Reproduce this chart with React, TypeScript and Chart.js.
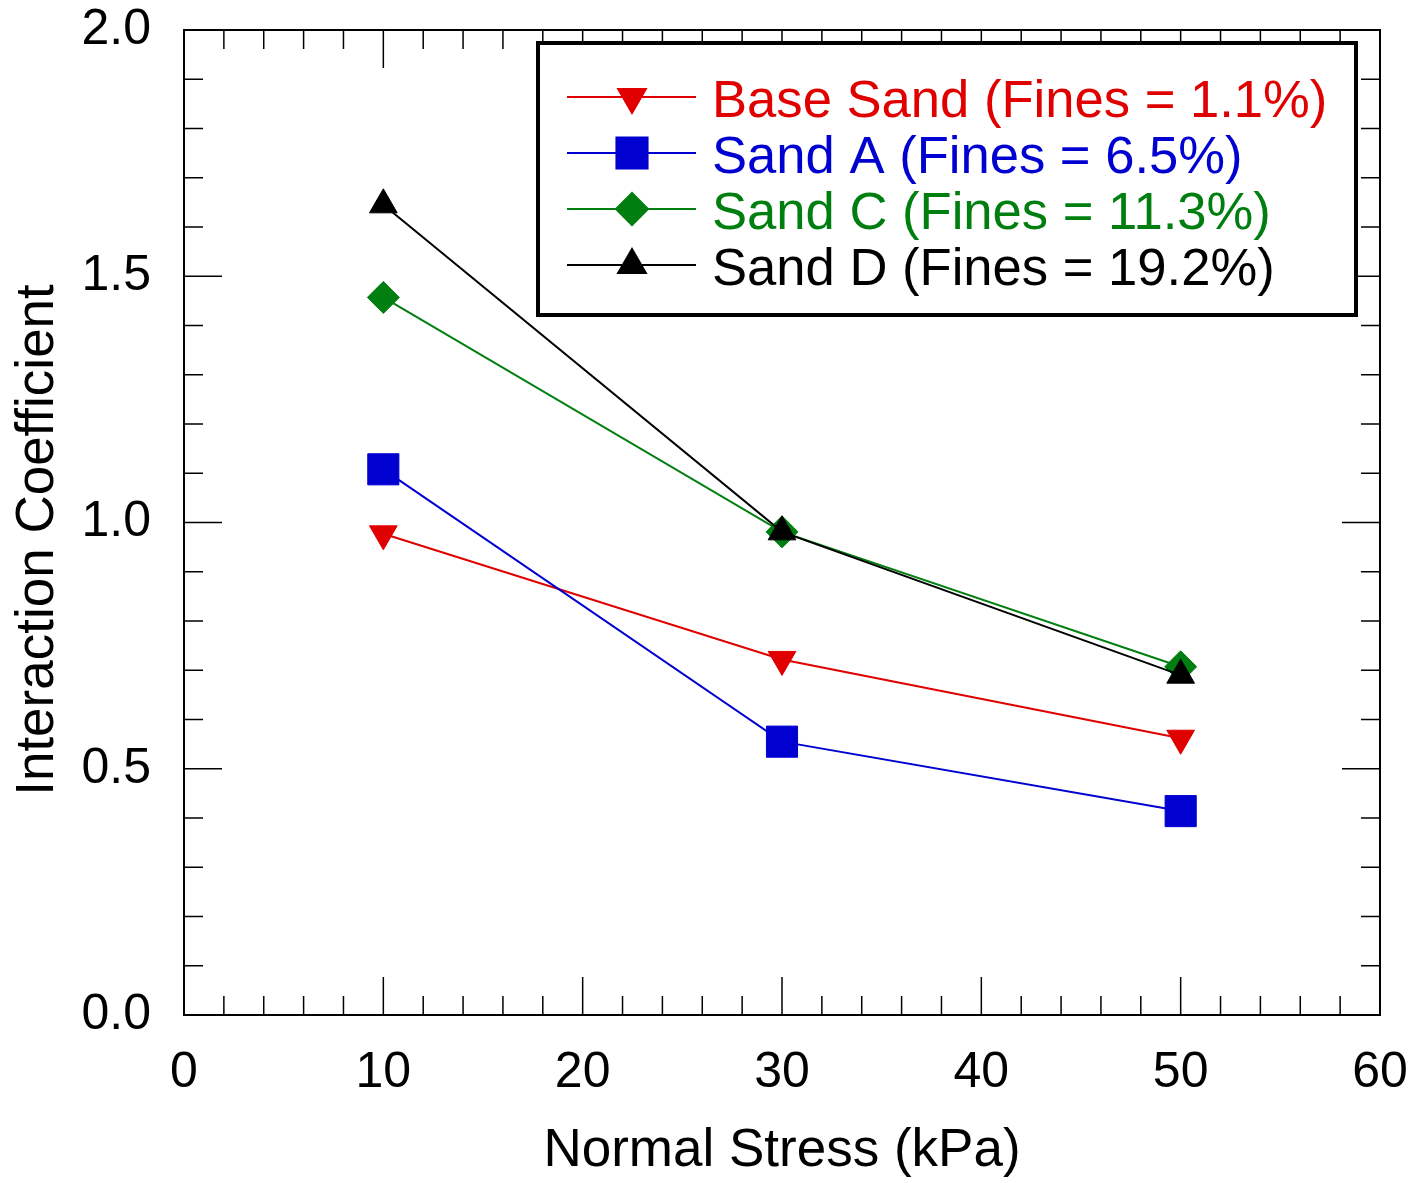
import React, { useEffect, useRef } from 'react';
import { Chart, registerables } from 'chart.js';
import { drawPoint } from 'chart.js/helpers';

Chart.register(...registerables);

const FONT = "'Liberation Sans', Arial, Helvetica, sans-serif";

// Data
const normalStress = [10, 30, 50];
const baseSand = [0.977, 0.722, 0.562];
const sandA = [1.108, 0.555, 0.414];
const sandC = [1.457, 0.981, 0.707];
const sandD = [1.645, 0.981, 0.69];

const seriesLabels = [
  'Base Sand (Fines = 1.1%)',
  'Sand A (Fines = 6.5%)',
  'Sand C (Fines = 11.3%)',
  'Sand D (Fines = 19.2%)',
];
const seriesColors = ['#e00000', '#0000d0', '#007f10', '#000000'];

const xMajorTicks = [0, 10, 20, 30, 40, 50, 60];
const xMinorTicks = [2, 4, 6, 8, 12, 14, 16, 18, 22, 24, 26, 28, 32, 34, 36, 38, 42, 44, 46, 48, 52, 54, 56, 58];
const yMajorTicks = [0, 0.5, 1.0, 1.5, 2.0];
const yMinorTicks = [0.1, 0.2, 0.3, 0.4, 0.6, 0.7, 0.8, 0.9, 1.1, 1.2, 1.3, 1.4, 1.6, 1.7, 1.8, 1.9];

const frameAndTicks = {
  id: 'frameAndTicks',
  beforeDatasetsDraw(chart: any) {
    const { ctx, chartArea } = chart;
    const xs = chart.scales.x;
    const ys = chart.scales.y;
    const { left, right, top, bottom } = chartArea;
    const major = 38;
    const minor = 19;
    ctx.save();
    ctx.strokeStyle = '#000';
    ctx.lineWidth = 1.5;
    ctx.beginPath();
    const vt = (v: number, len: number) => {
      const px = xs.getPixelForValue(v);
      ctx.moveTo(px, bottom);
      ctx.lineTo(px, bottom - len);
      ctx.moveTo(px, top);
      ctx.lineTo(px, top + len);
    };
    const ht = (v: number, len: number) => {
      const py = ys.getPixelForValue(v);
      ctx.moveTo(left, py);
      ctx.lineTo(left + len, py);
      ctx.moveTo(right, py);
      ctx.lineTo(right - len, py);
    };
    xMajorTicks.forEach((v) => vt(v, major));
    xMinorTicks.forEach((v) => vt(v, minor));
    yMajorTicks.forEach((v) => ht(v, major));
    yMinorTicks.forEach((v) => ht(v, minor));
    ctx.stroke();
    ctx.lineWidth = 2;
    ctx.strokeRect(left, top, right - left, bottom - top);
    ctx.restore();
  },
};

const yTitle = {
  id: 'yTitle',
  afterDraw(chart: any) {
    const { ctx } = chart;
    ctx.save();
    ctx.translate(53, 540);
    ctx.rotate(-Math.PI / 2);
    ctx.font = `53px ${FONT}`;
    ctx.fillStyle = '#000';
    ctx.textAlign = 'center';
    ctx.textBaseline = 'alphabetic';
    ctx.fillText('Interaction Coefficient', 0, 0);
    ctx.restore();
  },
};

const boxedLegend = {
  id: 'boxedLegend',
  afterDraw(chart: any) {
    const { ctx } = chart;
    const bx = 538, by = 43, bw = 818, bh = 272;
    ctx.save();
    ctx.fillStyle = '#fff';
    ctx.fillRect(bx, by, bw, bh);
    ctx.lineWidth = 4;
    ctx.strokeStyle = '#000';
    ctx.strokeRect(bx, by, bw, bh);
    chart.data.datasets.forEach((ds: any, i: number) => {
      const baseline = 117 + i * 56;
      const ly = baseline - 20;
      ctx.strokeStyle = ds.borderColor;
      ctx.lineWidth = 2;
      ctx.beginPath();
      ctx.moveTo(567, ly);
      ctx.lineTo(696, ly);
      ctx.stroke();
      ctx.fillStyle = ds.pointBackgroundColor;
      ctx.strokeStyle = ds.pointBorderColor;
      drawPoint(
        ctx,
        { pointStyle: ds.pointStyle, rotation: ds.pointRotation || 0, radius: ds.pointRadius, borderWidth: 1 },
        632,
        ly,
      );
      ctx.font = `52.6px ${FONT}`;
      ctx.fillStyle = ds.borderColor;
      ctx.textAlign = 'left';
      ctx.textBaseline = 'alphabetic';
      ctx.fillText(ds.label, 712, baseline);
    });
    ctx.restore();
  },
};

export default function App() {
  const ref = useRef<HTMLCanvasElement | null>(null);
  useEffect(() => {
    if (!ref.current) return;
    const mk = (i: number, values: number[], style: string, radius: number, rotation = 0) => ({
      label: seriesLabels[i],
      data: normalStress.map((x, k) => ({ x, y: values[k] })),
      borderColor: seriesColors[i],
      backgroundColor: seriesColors[i],
      pointBackgroundColor: seriesColors[i],
      pointBorderColor: seriesColors[i],
      borderWidth: 2,
      pointStyle: style,
      pointRotation: rotation,
      pointRadius: radius,
      pointBorderWidth: 1,
      tension: 0,
      fill: false,
      order: 3 - i,
    });
    const chart = new Chart(ref.current, {
      type: 'line',
      data: {
        datasets: [
          mk(0, baseSand, 'triangle', 16, 180),
          mk(1, sandA, 'rect', 22),
          mk(2, sandC, 'rectRot', 16),
          mk(3, sandD, 'triangle', 16),
        ],
      },
      options: {
        animation: false,
        responsive: false,
        devicePixelRatio: 1,
        layout: { padding: { top: 30, right: 34, left: 0, bottom: 0 } },
        plugins: { legend: { display: false }, tooltip: { enabled: false } },
        scales: {
          x: {
            type: 'linear',
            min: 0,
            max: 60,
            afterFit: (s: any) => {
              s.height = 168;
              s.paddingLeft = 0;
              s.paddingRight = 0;
            },
            afterBuildTicks: (s: any) => { s.ticks = xMajorTicks.map((v) => ({ value: v })); },
            grid: { display: false, drawTicks: false },
            border: { display: false },
            ticks: { color: '#000', font: { size: 50, family: FONT }, padding: 28, maxRotation: 0 },
            title: {
              display: true,
              text: 'Normal Stress (kPa)',
              color: '#000',
              font: { size: 53, family: FONT },
              padding: { top: 0, bottom: 0 },
            },
          },
          y: {
            type: 'linear',
            min: 0,
            max: 2,
            afterFit: (s: any) => {
              s.width = 184;
              s.paddingTop = 0;
              s.paddingBottom = 0;
            },
            afterBuildTicks: (s: any) => { s.ticks = yMajorTicks.map((v) => ({ value: v })); },
            grid: { display: false, drawTicks: false },
            border: { display: false },
            ticks: {
              color: '#000',
              font: { size: 50, family: FONT },
              padding: 33,
              callback: (v: any) => Number(v).toFixed(1),
            },
          },
        },
      },
      plugins: [frameAndTicks, yTitle, boxedLegend],
    } as any);
    return () => chart.destroy();
  }, []);
  return (
    <div style={{ position: 'fixed', left: 0, top: 0, width: 1414, height: 1183, background: '#fff' }}>
      <canvas ref={ref} width={1414} height={1183} style={{ display: 'block' }} />
    </div>
  );
}
